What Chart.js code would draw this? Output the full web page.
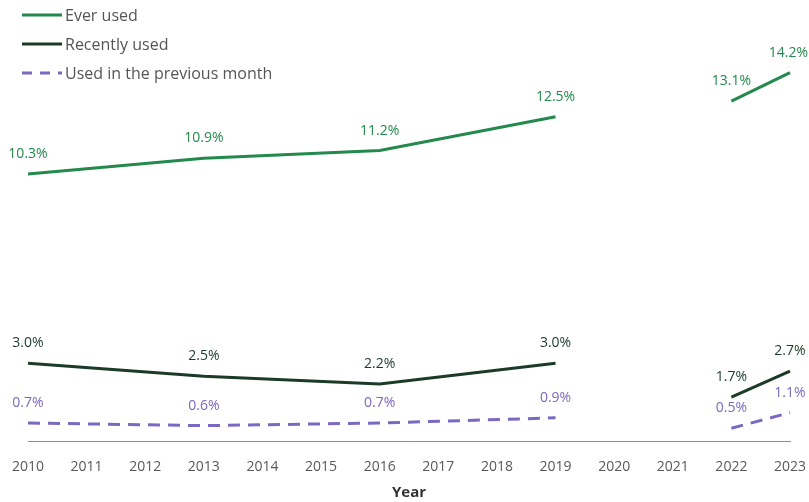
<!DOCTYPE html>
<html>
<head>
<meta charset="utf-8">
<script src="https://cdn.jsdelivr.net/npm/chart.js@4/dist/chart.umd.min.js"></script>
<style>
  html, body { margin: 0; padding: 0; background: #fff; }
  #wrap { position: relative; width: 809px; height: 502px; }
  #legend { position: absolute; left: 22px; top: 0px; font-family: "Open Sans", sans-serif; font-size: 16px; color: #555; }
  #legend div { height: 29px; display: flex; align-items: center; }
  #legend svg { margin-right: 3px; }
</style>
</head>
<body>
<div id="wrap">
  <canvas id="chart" width="809" height="502"></canvas>
  <div id="legend"></div>
</div>
<script>
// survey years; no survey in 2020 and 2021, so the lines break there
const years = ["2010","2011","2012","2013","2014","2015","2016","2017","2018","2019","2020","2021","2022","2023"];
const gapYears = ["2020", "2021"];

const everUsed      = [10.3, null, null, 10.9, null, null, 11.2, null, null, 12.5, null, null, 13.1, 14.2];
const recentlyUsed  = [3.0,  null, null, 2.5,  null, null, 2.2,  null, null, 3.0,  null, null, 1.7,  2.7];
const previousMonth = [0.7,  null, null, 0.6,  null, null, 0.7,  null, null, 0.9,  null, null, 0.5,  1.1];

const seriesNames = ["Ever used", "Recently used", "Used in the previous month"];

const green = "#23894c";
const dark = "#1b3a28";
const purple = "#7b68c1";

function inGap(ctx) {
    return gapYears.includes(years[ctx.p0DataIndex]) || gapYears.includes(years[ctx.p1DataIndex]);
}

function makeDataset(label, data, color, dash) {
    return {
        label: label,
        data: data,
        borderColor: color,
        backgroundColor: color,
        borderWidth: 3,
        borderDash: dash,
        pointRadius: 0,
        spanGaps: true,
        tension: 0,
        segment: {
            borderColor: ctx => inGap(ctx) ? "rgba(0,0,0,0)" : undefined
        }
    };
}

// draws the value labels above each point
const valueLabels = {
    id: "valueLabels",
    afterDatasetsDraw(chart) {
        const ctx = chart.ctx;
        ctx.save();
        ctx.font = "14px 'Open Sans', sans-serif";
        ctx.textAlign = "center";
        ctx.textBaseline = "middle";
        chart.data.datasets.forEach((ds, i) => {
            const meta = chart.getDatasetMeta(i);
            meta.data.forEach((pt, j) => {
                const v = ds.data[j];
                if (v === null) return;
                const text = v.toFixed(1) + "%";
                const w = ctx.measureText(text).width;
                let x = Math.min(pt.x, chart.width - w / 2 - 1);
                ctx.fillStyle = ds.borderColor;
                ctx.fillText(text, x, pt.y - 20);
            });
        });
        ctx.restore();
    }
};

const chart = new Chart(document.getElementById("chart"), {
    type: "line",
    data: {
        labels: years,
        datasets: [
            makeDataset(seriesNames[0], everUsed, green, []),
            makeDataset(seriesNames[1], recentlyUsed, dark, []),
            makeDataset(seriesNames[2], previousMonth, purple, [12, 8])
        ]
    },
    options: {
        responsive: false,
        animation: false,
        layout: { padding: { left: 28, right: 19, top: 0, bottom: 0 } },
        plugins: {
            legend: { display: false },
            tooltip: { enabled: false }
        },
        scales: {
            x: {
                grid: { display: true, color: "rgba(0,0,0,0)", drawOnChartArea: false, drawTicks: true, tickLength: 17 },
                border: { display: true, color: "#8c8c8c", width: 1 },
                ticks: {
                    autoSkip: false,
                    maxRotation: 0,
                    padding: 0,
                    color: "#595959",
                    font: { family: "'Open Sans', sans-serif", size: 14 }
                },
                title: {
                    display: true,
                    text: "Year",
                    color: "#333",
                    padding: { top: 9, bottom: 0 },
                    font: { family: "'Open Sans', sans-serif", size: 15, weight: "bold" }
                }
            },
            y: {
                display: false,
                min: 0,
                max: 17
            }
        }
    },
    plugins: [valueLabels]
});

// legend built from the datasets
const legend = document.getElementById("legend");
chart.data.datasets.forEach(ds => {
    const row = document.createElement("div");
    const dash = ds.borderDash.length ? ' stroke-dasharray="10 8"' : "";
    row.innerHTML = '<svg width="40" height="4"><line x1="0" y1="2" x2="40" y2="2" stroke="' + ds.borderColor +
        '" stroke-width="3"' + dash + '/></svg><span>' + ds.label + '</span>';
    legend.appendChild(row);
});
</script>
</body>
</html>
